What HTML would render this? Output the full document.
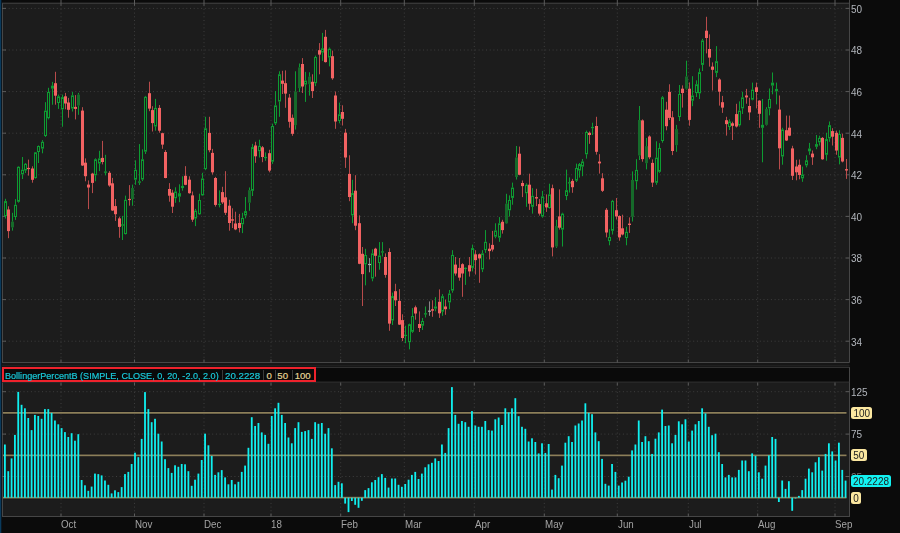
<!DOCTYPE html>
<html><head><meta charset="utf-8"><title>chart</title><style>
html,body{margin:0;padding:0;background:#0b0b0b;}
body{width:900px;height:533px;overflow:hidden;position:relative;font-family:"Liberation Sans",sans-serif;}
.t{position:absolute;white-space:nowrap;line-height:1;}
.ax{font-size:10.5px;color:#b2b6bc;left:851.0px;transform:scaleX(0.95);transform-origin:0 50%;}
.mo{font-size:10.5px;color:#a4a4a4;top:519.4px;transform:scaleX(0.93);transform-origin:0 50%;}
.tag{position:absolute;left:851.2px;height:12px;border-radius:2.5px;font-size:10.5px;line-height:12.6px;color:#1c1c1c;box-sizing:border-box;white-space:nowrap;text-align:center;overflow:hidden;}
.tag span{display:inline-block;transform:scaleX(0.95);transform-origin:50% 50%;}
.hdr{position:absolute;left:2px;top:367px;width:848px;height:15.5px;background:#0a0a0a;}
.box{position:absolute;left:2.3px;top:367.3px;width:313.3px;height:15px;box-sizing:border-box;border:2.2px solid #ee222c;background:#0a0a0a;}
.lb{position:absolute;top:371.0px;font-size:9.6px;line-height:1;white-space:nowrap;transform-origin:0 50%;-webkit-text-stroke:0.2px currentColor;}
.sep{position:absolute;top:370px;width:1px;height:9.5px;background:#3a3a3a;}
</style></head><body>
<svg width="900" height="533" viewBox="0 0 900 533" style="position:absolute;left:0;top:0">
<rect x="0" y="0" width="900" height="533" fill="#0b0b0b"/>
<rect x="0" y="0" width="1.3" height="533" fill="#0a3a5c"/>
<rect x="2" y="3.2" width="847.5" height="359.3" fill="#1c1c1c"/>
<rect x="2" y="382.5" width="847.5" height="134.0" fill="#1c1c1c"/>
<rect x="2" y="363" width="847.5" height="4" fill="#161616"/>
<rect x="2" y="364.9" width="847.5" height="1" fill="#202020"/>
<rect x="2" y="367" width="847.5" height="15" fill="#0a0a0a"/>
<g stroke="#3e3e3e" stroke-width="1" stroke-dasharray="1 2.7" fill="none">
<path d="M5 341.2H844.5"/>
<path d="M5 299.6H844.5"/>
<path d="M5 258.0H844.5"/>
<path d="M5 216.4H844.5"/>
<path d="M5 174.8H844.5"/>
<path d="M5 133.2H844.5"/>
<path d="M5 91.6H844.5"/>
<path d="M5 50.0H844.5"/>
<path d="M5 8.4H844.5"/>
<path d="M61 5.2V360.5"/>
<path d="M61 384.5V514.5"/>
<path d="M134.5 5.2V360.5"/>
<path d="M134.5 384.5V514.5"/>
<path d="M204 5.2V360.5"/>
<path d="M204 384.5V514.5"/>
<path d="M271 5.2V360.5"/>
<path d="M271 384.5V514.5"/>
<path d="M340.7 5.2V360.5"/>
<path d="M340.7 384.5V514.5"/>
<path d="M404.3 5.2V360.5"/>
<path d="M404.3 384.5V514.5"/>
<path d="M474.3 5.2V360.5"/>
<path d="M474.3 384.5V514.5"/>
<path d="M544.3 5.2V360.5"/>
<path d="M544.3 384.5V514.5"/>
<path d="M617.3 5.2V360.5"/>
<path d="M617.3 384.5V514.5"/>
<path d="M688.3 5.2V360.5"/>
<path d="M688.3 384.5V514.5"/>
<path d="M757.7 5.2V360.5"/>
<path d="M757.7 384.5V514.5"/>
<path d="M835 5.2V360.5"/>
<path d="M835 384.5V514.5"/>
<path d="M5 476.5H844.5"/>
<path d="M5 434.1H844.5"/>
<path d="M5 391.7H844.5"/>
</g>
<g stroke="#464646" stroke-width="1" fill="none">
<path d="M2 3.2H849.5M2 362.5H849.5M2.5 3.2V362.5M849.5 0V362.5"/>
<path d="M2 516.5H849.5M2.5 382.5V516.5M849.5 367V517.0"/>
<path d="M2 382.1H849.5M315 367.4H849.5" stroke="#363636"/>
<path d="M2 341.2h4M845.5 341.2h4M2 299.6h4M845.5 299.6h4M2 258.0h4M845.5 258.0h4M2 216.4h4M845.5 216.4h4M2 174.8h4M845.5 174.8h4M2 133.2h4M845.5 133.2h4M2 91.6h4M845.5 91.6h4M2 50.0h4M845.5 50.0h4M2 8.4h4M845.5 8.4h4M2 476.5h4M845.5 476.5h4M2 434.1h4M845.5 434.1h4M2 391.7h4M845.5 391.7h4M61 0V5.7M61 362.5v-3M61 382.5v3M61 516.5v-3M134.5 0V5.7M134.5 362.5v-3M134.5 382.5v3M134.5 516.5v-3M204 0V5.7M204 362.5v-3M204 382.5v3M204 516.5v-3M271 0V5.7M271 362.5v-3M271 382.5v3M271 516.5v-3M340.7 0V5.7M340.7 362.5v-3M340.7 382.5v3M340.7 516.5v-3M404.3 0V5.7M404.3 362.5v-3M404.3 382.5v3M404.3 516.5v-3M474.3 0V5.7M474.3 362.5v-3M474.3 382.5v3M474.3 516.5v-3M544.3 0V5.7M544.3 362.5v-3M544.3 382.5v3M544.3 516.5v-3M617.3 0V5.7M617.3 362.5v-3M617.3 382.5v3M617.3 516.5v-3M688.3 0V5.7M688.3 362.5v-3M688.3 382.5v3M688.3 516.5v-3M757.7 0V5.7M757.7 362.5v-3M757.7 382.5v3M757.7 516.5v-3M835 0V5.7M835 362.5v-3M835 382.5v3M835 516.5v-3" stroke="#5c5c5c"/>
</g>
<defs><filter id="bl" x="0" y="0" width="100%" height="100%" filterUnits="userSpaceOnUse"><feGaussianBlur stdDeviation="0.4"/></filter></defs>
<g filter="url(#bl)">
<path d="M5.5 198.8V201.1M5.5 216.1V218.5" stroke="#0e9c33" stroke-width="1"/>
<rect x="4.5" y="201.6" width="2" height="14.0" fill="#1c1c1c" stroke="#0e9c33" stroke-width="1"/>
<path d="M8.5 206.3V238.2" stroke="#b84c4c" stroke-width="1"/>
<rect x="7.0" y="209.5" width="3" height="21.6" fill="#f26262"/>
<path d="M12.5 212.8V221.7M12.5 227.4V230.6" stroke="#0e9c33" stroke-width="1"/>
<rect x="11.0" y="221.7" width="3" height="5.7" fill="#166a2a"/>
<path d="M15.5 199.2V204.8M15.5 217.0V219.9" stroke="#0e9c33" stroke-width="1"/>
<rect x="14.5" y="205.3" width="2" height="11.2" fill="#1c1c1c" stroke="#0e9c33" stroke-width="1"/>
<path d="M18.5 166.3V166.8M18.5 201.8V202.6" stroke="#0e9c33" stroke-width="1"/>
<rect x="17.5" y="167.3" width="2" height="34.0" fill="#1c1c1c" stroke="#0e9c33" stroke-width="1"/>
<path d="M22.5 157.0V169.7M22.5 174.3V179.0" stroke="#0e9c33" stroke-width="1"/>
<rect x="21.5" y="170.2" width="2" height="3.6" fill="#1c1c1c" stroke="#0e9c33" stroke-width="1"/>
<path d="M25.5 163.0V163.8M25.5 170.5V173.0" stroke="#0e9c33" stroke-width="1"/>
<rect x="24.5" y="164.3" width="2" height="5.7" fill="#1c1c1c" stroke="#0e9c33" stroke-width="1"/>
<path d="M28.5 159.6V175.6" stroke="#b84c4c" stroke-width="1"/>
<rect x="27.0" y="167.9" width="3" height="1.2" fill="#f26262"/>
<path d="M32.5 166.3V182.7" stroke="#b84c4c" stroke-width="1"/>
<rect x="31.0" y="168.5" width="3" height="11.3" fill="#f26262"/>
<path d="M35.5 152.0V152.3M35.5 178.1V178.6" stroke="#0e9c33" stroke-width="1"/>
<rect x="34.5" y="152.8" width="2" height="24.8" fill="#1c1c1c" stroke="#0e9c33" stroke-width="1"/>
<path d="M38.5 145.5V146.0M38.5 152.0V163.0" stroke="#0e9c33" stroke-width="1"/>
<rect x="37.5" y="146.5" width="2" height="5.0" fill="#1c1c1c" stroke="#0e9c33" stroke-width="1"/>
<path d="M42.5 140.1V141.8M42.5 148.6V153.3" stroke="#0e9c33" stroke-width="1"/>
<rect x="41.5" y="142.3" width="2" height="5.8" fill="#1c1c1c" stroke="#0e9c33" stroke-width="1"/>
<path d="M45.5 102.2V110.6M45.5 136.0V136.9" stroke="#0e9c33" stroke-width="1"/>
<rect x="44.5" y="111.1" width="2" height="24.4" fill="#1c1c1c" stroke="#0e9c33" stroke-width="1"/>
<path d="M48.5 87.8V92.0M48.5 118.2V119.4" stroke="#0e9c33" stroke-width="1"/>
<rect x="47.5" y="92.5" width="2" height="25.2" fill="#1c1c1c" stroke="#0e9c33" stroke-width="1"/>
<path d="M52.5 81.9V85.6M52.5 88.6V104.7" stroke="#0e9c33" stroke-width="1"/>
<rect x="51.5" y="86.1" width="2" height="2.0" fill="#1c1c1c" stroke="#0e9c33" stroke-width="1"/>
<path d="M55.5 71.8V104.7" stroke="#b84c4c" stroke-width="1"/>
<rect x="54.0" y="83.2" width="3" height="12.5" fill="#f26262"/>
<path d="M58.5 94.6V96.3M58.5 103.0V108.9" stroke="#0e9c33" stroke-width="1"/>
<rect x="57.5" y="96.8" width="2" height="5.7" fill="#1c1c1c" stroke="#0e9c33" stroke-width="1"/>
<path d="M62.5 94.6V97.1M62.5 109.3V126.7" stroke="#0e9c33" stroke-width="1"/>
<rect x="61.5" y="97.6" width="2" height="11.2" fill="#1c1c1c" stroke="#0e9c33" stroke-width="1"/>
<path d="M65.5 92.9V109.3" stroke="#b84c4c" stroke-width="1"/>
<rect x="64.0" y="96.3" width="3" height="7.2" fill="#f26262"/>
<path d="M68.5 97.9V117.7" stroke="#b84c4c" stroke-width="1"/>
<rect x="67.0" y="102.5" width="3" height="7.3" fill="#f26262"/>
<path d="M72.5 92.0V95.4M72.5 108.6V111.5" stroke="#0e9c33" stroke-width="1"/>
<rect x="71.5" y="95.9" width="2" height="12.2" fill="#1c1c1c" stroke="#0e9c33" stroke-width="1"/>
<path d="M75.5 95.1V119.4" stroke="#b84c4c" stroke-width="1"/>
<rect x="74.0" y="106.9" width="3" height="2.0" fill="#f26262"/>
<path d="M78.5 92.9V94.6M78.5 105.5V114.8" stroke="#0e9c33" stroke-width="1"/>
<rect x="77.0" y="94.6" width="3" height="10.9" fill="#166a2a"/>
<path d="M82.5 107.2V166.0" stroke="#b84c4c" stroke-width="1"/>
<rect x="81.0" y="110.6" width="3" height="54.9" fill="#f26262"/>
<path d="M85.5 158.4V181.3" stroke="#b84c4c" stroke-width="1"/>
<rect x="84.0" y="162.7" width="3" height="13.5" fill="#f26262"/>
<path d="M88.5 180.4V209.1" stroke="#b84c4c" stroke-width="1"/>
<rect x="87.0" y="184.6" width="3" height="2.9" fill="#f26262"/>
<path d="M92.5 172.8V193.1" stroke="#b84c4c" stroke-width="1"/>
<rect x="91.0" y="173.6" width="3" height="9.3" fill="#f26262"/>
<path d="M95.5 158.4V159.3M95.5 175.3V181.3" stroke="#0e9c33" stroke-width="1"/>
<rect x="94.5" y="159.8" width="2" height="15.0" fill="#1c1c1c" stroke="#0e9c33" stroke-width="1"/>
<path d="M99.5 150.8V158.4M99.5 163.5V171.1" stroke="#0e9c33" stroke-width="1"/>
<rect x="98.5" y="158.9" width="2" height="4.1" fill="#1c1c1c" stroke="#0e9c33" stroke-width="1"/>
<path d="M102.5 140.9V164.4" stroke="#b84c4c" stroke-width="1"/>
<rect x="101.0" y="157.9" width="3" height="4.1" fill="#f26262"/>
<path d="M105.5 154.8V171.5M105.5 172.7V175.3" stroke="#0e9c33" stroke-width="1"/>
<rect x="104.5" y="172.0" width="2" height="0.3" fill="#1c1c1c" stroke="#0e9c33" stroke-width="1"/>
<path d="M109.5 171.1V186.8" stroke="#b84c4c" stroke-width="1"/>
<rect x="108.0" y="172.8" width="3" height="12.7" fill="#f26262"/>
<path d="M112.5 177.9V211.0" stroke="#b84c4c" stroke-width="1"/>
<rect x="111.0" y="183.3" width="3" height="27.2" fill="#f26262"/>
<path d="M115.5 199.0V220.9" stroke="#b84c4c" stroke-width="1"/>
<rect x="114.0" y="206.1" width="3" height="8.1" fill="#f26262"/>
<path d="M119.5 216.7V237.8" stroke="#b84c4c" stroke-width="1"/>
<rect x="118.0" y="218.4" width="3" height="8.5" fill="#f26262"/>
<path d="M122.5 215.9V224.3M122.5 225.7V240.0" stroke="#0e9c33" stroke-width="1"/>
<rect x="121.5" y="224.8" width="2" height="0.4" fill="#1c1c1c" stroke="#0e9c33" stroke-width="1"/>
<path d="M125.5 195.6V199.8M125.5 234.1V234.5" stroke="#0e9c33" stroke-width="1"/>
<rect x="124.5" y="200.3" width="2" height="33.3" fill="#1c1c1c" stroke="#0e9c33" stroke-width="1"/>
<path d="M129.5 185.1V205.7" stroke="#b84c4c" stroke-width="1"/>
<rect x="128.0" y="198.9" width="3" height="1.2" fill="#f26262"/>
<path d="M132.5 184.6V188.0M132.5 199.0V205.7" stroke="#0e9c33" stroke-width="1"/>
<rect x="131.0" y="188.0" width="3" height="11.0" fill="#166a2a"/>
<path d="M135.5 160.3V169.8M135.5 179.6V184.8" stroke="#0e9c33" stroke-width="1"/>
<rect x="134.5" y="170.3" width="2" height="8.8" fill="#1c1c1c" stroke="#0e9c33" stroke-width="1"/>
<path d="M139.5 144.1V181.4M139.5 182.6V185.0" stroke="#0e9c33" stroke-width="1"/>
<rect x="138.5" y="181.9" width="2" height="0.3" fill="#1c1c1c" stroke="#0e9c33" stroke-width="1"/>
<path d="M142.5 149.4V159.3M142.5 179.5V181.1" stroke="#0e9c33" stroke-width="1"/>
<rect x="141.5" y="159.8" width="2" height="19.2" fill="#1c1c1c" stroke="#0e9c33" stroke-width="1"/>
<path d="M145.5 95.9V96.8M145.5 151.7V154.0" stroke="#0e9c33" stroke-width="1"/>
<rect x="144.5" y="97.3" width="2" height="53.9" fill="#1c1c1c" stroke="#0e9c33" stroke-width="1"/>
<path d="M149.5 81.7V111.2" stroke="#b84c4c" stroke-width="1"/>
<rect x="148.0" y="93.2" width="3" height="15.4" fill="#f26262"/>
<path d="M152.5 106.2V131.5" stroke="#b84c4c" stroke-width="1"/>
<rect x="151.0" y="110.1" width="3" height="13.0" fill="#f26262"/>
<path d="M155.5 98.9V107.9M155.5 126.5V130.7" stroke="#0e9c33" stroke-width="1"/>
<rect x="154.5" y="108.4" width="2" height="17.6" fill="#1c1c1c" stroke="#0e9c33" stroke-width="1"/>
<path d="M159.5 105.0V132.7" stroke="#b84c4c" stroke-width="1"/>
<rect x="158.0" y="107.9" width="3" height="22.8" fill="#f26262"/>
<path d="M162.5 132.7V148.8" stroke="#b84c4c" stroke-width="1"/>
<rect x="161.0" y="133.2" width="3" height="11.4" fill="#f26262"/>
<path d="M165.5 150.1V178.3" stroke="#b84c4c" stroke-width="1"/>
<rect x="164.0" y="152.0" width="3" height="26.0" fill="#f26262"/>
<path d="M169.5 183.1V201.7" stroke="#b84c4c" stroke-width="1"/>
<rect x="168.0" y="189.0" width="3" height="6.7" fill="#f26262"/>
<path d="M172.5 189.8V213.0" stroke="#b84c4c" stroke-width="1"/>
<rect x="171.0" y="192.7" width="3" height="14.0" fill="#f26262"/>
<path d="M175.5 187.3V191.5M175.5 198.3V202.8" stroke="#0e9c33" stroke-width="1"/>
<rect x="174.5" y="192.0" width="2" height="5.8" fill="#1c1c1c" stroke="#0e9c33" stroke-width="1"/>
<path d="M179.5 184.3V193.2M179.5 196.6V202.2" stroke="#0e9c33" stroke-width="1"/>
<rect x="178.5" y="193.7" width="2" height="2.4" fill="#1c1c1c" stroke="#0e9c33" stroke-width="1"/>
<path d="M182.5 176.3V185.9M182.5 188.1V190.7" stroke="#0e9c33" stroke-width="1"/>
<rect x="181.5" y="186.4" width="2" height="1.2" fill="#1c1c1c" stroke="#0e9c33" stroke-width="1"/>
<path d="M185.5 166.2V185.2" stroke="#b84c4c" stroke-width="1"/>
<rect x="184.0" y="175.8" width="3" height="9.0" fill="#f26262"/>
<path d="M189.5 176.3V193.7" stroke="#b84c4c" stroke-width="1"/>
<rect x="188.0" y="179.7" width="3" height="13.5" fill="#f26262"/>
<path d="M192.5 191.5V221.9" stroke="#b84c4c" stroke-width="1"/>
<rect x="191.0" y="195.4" width="3" height="24.3" fill="#f26262"/>
<path d="M195.5 208.9V210.6M195.5 218.5V226.1" stroke="#0e9c33" stroke-width="1"/>
<rect x="194.5" y="211.1" width="2" height="6.9" fill="#1c1c1c" stroke="#0e9c33" stroke-width="1"/>
<path d="M199.5 193.7V200.0M199.5 214.3V214.8" stroke="#0e9c33" stroke-width="1"/>
<rect x="198.5" y="200.5" width="2" height="13.3" fill="#1c1c1c" stroke="#0e9c33" stroke-width="1"/>
<path d="M202.5 172.8V178.5M202.5 195.4V195.8" stroke="#0e9c33" stroke-width="1"/>
<rect x="201.5" y="179.0" width="2" height="15.9" fill="#1c1c1c" stroke="#0e9c33" stroke-width="1"/>
<path d="M205.5 116.8V128.3M205.5 169.1V170.2" stroke="#0e9c33" stroke-width="1"/>
<rect x="204.5" y="128.8" width="2" height="39.8" fill="#1c1c1c" stroke="#0e9c33" stroke-width="1"/>
<path d="M209.5 116.8V152.3" stroke="#b84c4c" stroke-width="1"/>
<rect x="208.0" y="132.9" width="3" height="17.3" fill="#f26262"/>
<path d="M212.5 148.9V174.6" stroke="#b84c4c" stroke-width="1"/>
<rect x="211.0" y="152.9" width="3" height="19.4" fill="#f26262"/>
<path d="M215.5 176.9V206.6" stroke="#b84c4c" stroke-width="1"/>
<rect x="214.0" y="178.0" width="3" height="26.9" fill="#f26262"/>
<path d="M219.5 190.4V203.7M219.5 204.9V207.4" stroke="#0e9c33" stroke-width="1"/>
<rect x="218.5" y="204.2" width="2" height="0.3" fill="#1c1c1c" stroke="#0e9c33" stroke-width="1"/>
<path d="M222.5 186.8V204.0" stroke="#b84c4c" stroke-width="1"/>
<rect x="221.0" y="192.1" width="3" height="10.3" fill="#f26262"/>
<path d="M225.5 171.2V215.0" stroke="#b84c4c" stroke-width="1"/>
<rect x="224.0" y="197.3" width="3" height="15.5" fill="#f26262"/>
<path d="M229.5 199.8V230.7" stroke="#b84c4c" stroke-width="1"/>
<rect x="228.0" y="205.7" width="3" height="17.3" fill="#f26262"/>
<path d="M232.5 208.3V228.0" stroke="#b84c4c" stroke-width="1"/>
<rect x="231.0" y="219.3" width="3" height="1.3" fill="#f26262"/>
<path d="M235.5 211.7V230.2" stroke="#b84c4c" stroke-width="1"/>
<rect x="234.0" y="223.5" width="3" height="5.9" fill="#f26262"/>
<path d="M239.5 213.9V232.4" stroke="#b84c4c" stroke-width="1"/>
<rect x="238.0" y="223.0" width="3" height="5.0" fill="#f26262"/>
<path d="M242.5 212.8V217.9M242.5 224.3V233.1" stroke="#0e9c33" stroke-width="1"/>
<rect x="241.5" y="218.4" width="2" height="5.4" fill="#1c1c1c" stroke="#0e9c33" stroke-width="1"/>
<path d="M245.5 197.0V211.1M245.5 215.5V218.4" stroke="#0e9c33" stroke-width="1"/>
<rect x="244.5" y="211.6" width="2" height="3.4" fill="#1c1c1c" stroke="#0e9c33" stroke-width="1"/>
<path d="M249.5 187.5V190.2M249.5 202.7V210.8" stroke="#0e9c33" stroke-width="1"/>
<rect x="248.0" y="190.2" width="3" height="12.5" fill="#166a2a"/>
<path d="M252.5 143.9V147.1M252.5 190.8V196.0" stroke="#0e9c33" stroke-width="1"/>
<rect x="251.5" y="147.6" width="2" height="42.7" fill="#1c1c1c" stroke="#0e9c33" stroke-width="1"/>
<path d="M255.5 141.8V162.8" stroke="#b84c4c" stroke-width="1"/>
<rect x="254.0" y="145.5" width="3" height="10.8" fill="#f26262"/>
<path d="M259.5 139.7V145.9M259.5 151.2V157.5" stroke="#0e9c33" stroke-width="1"/>
<rect x="258.5" y="146.4" width="2" height="4.3" fill="#1c1c1c" stroke="#0e9c33" stroke-width="1"/>
<path d="M262.5 146.0V162.2" stroke="#b84c4c" stroke-width="1"/>
<rect x="261.0" y="147.3" width="3" height="9.7" fill="#f26262"/>
<path d="M265.5 152.4V156.9M265.5 158.1V160.8" stroke="#0e9c33" stroke-width="1"/>
<rect x="264.5" y="157.4" width="2" height="0.3" fill="#1c1c1c" stroke="#0e9c33" stroke-width="1"/>
<path d="M269.5 149.8V172.3" stroke="#b84c4c" stroke-width="1"/>
<rect x="268.0" y="153.2" width="3" height="17.4" fill="#f26262"/>
<path d="M272.5 123.6V126.0M272.5 161.7V163.9" stroke="#0e9c33" stroke-width="1"/>
<rect x="271.5" y="126.5" width="2" height="34.7" fill="#1c1c1c" stroke="#0e9c33" stroke-width="1"/>
<path d="M275.5 91.0V105.4M275.5 123.4V125.0" stroke="#0e9c33" stroke-width="1"/>
<rect x="274.5" y="105.9" width="2" height="17.0" fill="#1c1c1c" stroke="#0e9c33" stroke-width="1"/>
<path d="M279.5 71.3V74.3M279.5 101.5V116.8" stroke="#0e9c33" stroke-width="1"/>
<rect x="278.5" y="74.8" width="2" height="26.2" fill="#1c1c1c" stroke="#0e9c33" stroke-width="1"/>
<path d="M282.5 70.8V94.0" stroke="#b84c4c" stroke-width="1"/>
<rect x="281.0" y="80.6" width="3" height="3.2" fill="#f26262"/>
<path d="M285.5 70.4V107.8" stroke="#b84c4c" stroke-width="1"/>
<rect x="284.0" y="83.2" width="3" height="10.4" fill="#f26262"/>
<path d="M289.5 94.0V127.7" stroke="#b84c4c" stroke-width="1"/>
<rect x="288.0" y="97.6" width="3" height="24.2" fill="#f26262"/>
<path d="M292.5 114.5V135.8" stroke="#b84c4c" stroke-width="1"/>
<rect x="291.0" y="117.8" width="3" height="16.0" fill="#f26262"/>
<path d="M295.5 71.3V91.7M295.5 125.2V129.5" stroke="#0e9c33" stroke-width="1"/>
<rect x="294.0" y="91.7" width="3" height="33.5" fill="#166a2a"/>
<path d="M299.5 63.5V67.4M299.5 88.1V92.0" stroke="#0e9c33" stroke-width="1"/>
<rect x="298.0" y="67.4" width="3" height="20.7" fill="#166a2a"/>
<path d="M302.5 58.1V93.0" stroke="#b84c4c" stroke-width="1"/>
<rect x="301.0" y="64.0" width="3" height="22.5" fill="#f26262"/>
<path d="M305.5 71.9V80.6M305.5 84.6V101.9" stroke="#0e9c33" stroke-width="1"/>
<rect x="304.5" y="81.1" width="2" height="3.0" fill="#1c1c1c" stroke="#0e9c33" stroke-width="1"/>
<path d="M309.5 72.3V76.7M309.5 84.2V95.6" stroke="#0e9c33" stroke-width="1"/>
<rect x="308.0" y="76.7" width="3" height="7.5" fill="#166a2a"/>
<path d="M312.5 74.3V98.0" stroke="#b84c4c" stroke-width="1"/>
<rect x="311.0" y="81.8" width="3" height="9.3" fill="#f26262"/>
<path d="M315.5 55.6V57.0M315.5 83.2V86.1" stroke="#0e9c33" stroke-width="1"/>
<rect x="314.5" y="57.5" width="2" height="25.2" fill="#1c1c1c" stroke="#0e9c33" stroke-width="1"/>
<path d="M319.5 43.1V74.3" stroke="#b84c4c" stroke-width="1"/>
<rect x="318.0" y="50.2" width="3" height="4.4" fill="#f26262"/>
<path d="M322.5 32.9V48.3M322.5 52.6V60.9" stroke="#0e9c33" stroke-width="1"/>
<rect x="321.5" y="48.8" width="2" height="3.3" fill="#1c1c1c" stroke="#0e9c33" stroke-width="1"/>
<path d="M325.5 29.9V62.5" stroke="#b84c4c" stroke-width="1"/>
<rect x="324.0" y="36.8" width="3" height="25.3" fill="#f26262"/>
<path d="M329.5 47.5V48.7M329.5 57.5V66.4" stroke="#0e9c33" stroke-width="1"/>
<rect x="328.5" y="49.2" width="2" height="7.8" fill="#1c1c1c" stroke="#0e9c33" stroke-width="1"/>
<path d="M332.5 50.6V79.8" stroke="#b84c4c" stroke-width="1"/>
<rect x="331.0" y="56.2" width="3" height="22.1" fill="#f26262"/>
<path d="M335.5 91.5V128.8" stroke="#b84c4c" stroke-width="1"/>
<rect x="334.0" y="95.5" width="3" height="26.0" fill="#f26262"/>
<path d="M339.5 102.6V114.3M339.5 121.0V123.3" stroke="#0e9c33" stroke-width="1"/>
<rect x="338.5" y="114.8" width="2" height="5.7" fill="#1c1c1c" stroke="#0e9c33" stroke-width="1"/>
<path d="M342.5 105.3V125.5" stroke="#b84c4c" stroke-width="1"/>
<rect x="341.0" y="112.0" width="3" height="6.8" fill="#f26262"/>
<path d="M345.5 128.9V167.9" stroke="#b84c4c" stroke-width="1"/>
<rect x="344.0" y="132.7" width="3" height="24.8" fill="#f26262"/>
<path d="M349.5 155.3V201.2" stroke="#b84c4c" stroke-width="1"/>
<rect x="348.0" y="173.9" width="3" height="23.1" fill="#f26262"/>
<path d="M352.5 179.8V193.1M352.5 215.4V223.2" stroke="#0e9c33" stroke-width="1"/>
<rect x="351.5" y="193.6" width="2" height="21.3" fill="#1c1c1c" stroke="#0e9c33" stroke-width="1"/>
<path d="M355.5 175.2V230.2" stroke="#b84c4c" stroke-width="1"/>
<rect x="354.0" y="190.7" width="3" height="35.0" fill="#f26262"/>
<path d="M359.5 215.4V264.2" stroke="#b84c4c" stroke-width="1"/>
<rect x="358.0" y="223.2" width="3" height="40.6" fill="#f26262"/>
<path d="M362.5 247.0V306.0" stroke="#b84c4c" stroke-width="1"/>
<rect x="361.0" y="253.8" width="3" height="20.3" fill="#f26262"/>
<path d="M365.5 248.8V255.0M365.5 264.4V285.4" stroke="#0e9c33" stroke-width="1"/>
<rect x="364.5" y="255.5" width="2" height="8.4" fill="#1c1c1c" stroke="#0e9c33" stroke-width="1"/>
<path d="M369.5 258.1V272.3" stroke="#888" stroke-width="1"/>
<rect x="368.0" y="263.9" width="3" height="1.2" fill="#aaa"/>
<path d="M372.5 249.3V253.4M372.5 278.5V281.3" stroke="#0e9c33" stroke-width="1"/>
<rect x="371.5" y="253.9" width="2" height="24.1" fill="#1c1c1c" stroke="#0e9c33" stroke-width="1"/>
<path d="M375.5 247.8V276.7" stroke="#b84c4c" stroke-width="1"/>
<rect x="374.0" y="248.7" width="3" height="7.1" fill="#f26262"/>
<path d="M379.5 242.1V255.5M379.5 263.0V269.7" stroke="#0e9c33" stroke-width="1"/>
<rect x="378.5" y="256.0" width="2" height="6.5" fill="#1c1c1c" stroke="#0e9c33" stroke-width="1"/>
<path d="M382.5 242.1V251.3M382.5 252.5V256.5" stroke="#0e9c33" stroke-width="1"/>
<rect x="381.5" y="251.8" width="2" height="0.3" fill="#1c1c1c" stroke="#0e9c33" stroke-width="1"/>
<path d="M385.5 253.4V277.7" stroke="#b84c4c" stroke-width="1"/>
<rect x="384.0" y="257.0" width="3" height="17.9" fill="#f26262"/>
<path d="M389.5 248.3V330.8" stroke="#b84c4c" stroke-width="1"/>
<rect x="388.0" y="252.0" width="3" height="71.6" fill="#f26262"/>
<path d="M392.5 292.6V296.1M392.5 320.5V325.0" stroke="#0e9c33" stroke-width="1"/>
<rect x="391.5" y="296.6" width="2" height="23.4" fill="#1c1c1c" stroke="#0e9c33" stroke-width="1"/>
<path d="M395.5 283.8V306.0" stroke="#b84c4c" stroke-width="1"/>
<rect x="394.0" y="291.2" width="3" height="9.1" fill="#f26262"/>
<path d="M399.5 289.1V325.0" stroke="#b84c4c" stroke-width="1"/>
<rect x="398.0" y="300.9" width="3" height="23.7" fill="#f26262"/>
<path d="M402.5 314.3V341.1" stroke="#b84c4c" stroke-width="1"/>
<rect x="401.0" y="320.1" width="3" height="17.9" fill="#f26262"/>
<path d="M405.5 325.7V334.8M405.5 336.1V343.2" stroke="#0e9c33" stroke-width="1"/>
<rect x="404.5" y="335.3" width="2" height="0.3" fill="#1c1c1c" stroke="#0e9c33" stroke-width="1"/>
<path d="M409.5 323.6V324.2M409.5 342.2V349.4" stroke="#0e9c33" stroke-width="1"/>
<rect x="408.5" y="324.7" width="2" height="17.0" fill="#1c1c1c" stroke="#0e9c33" stroke-width="1"/>
<path d="M412.5 308.1V316.0M412.5 331.8V332.9" stroke="#0e9c33" stroke-width="1"/>
<rect x="411.5" y="316.5" width="2" height="14.8" fill="#1c1c1c" stroke="#0e9c33" stroke-width="1"/>
<path d="M415.5 305.6V319.7" stroke="#b84c4c" stroke-width="1"/>
<rect x="414.0" y="307.3" width="3" height="6.2" fill="#f26262"/>
<path d="M419.5 311.4V332.0" stroke="#b84c4c" stroke-width="1"/>
<rect x="418.0" y="324.0" width="3" height="4.0" fill="#f26262"/>
<path d="M422.5 318.0V321.0M422.5 325.7V330.0" stroke="#0e9c33" stroke-width="1"/>
<rect x="421.5" y="321.5" width="2" height="3.7" fill="#1c1c1c" stroke="#0e9c33" stroke-width="1"/>
<path d="M425.5 306.5V313.2M425.5 314.4V317.5" stroke="#0e9c33" stroke-width="1"/>
<rect x="424.5" y="313.7" width="2" height="0.3" fill="#1c1c1c" stroke="#0e9c33" stroke-width="1"/>
<path d="M429.5 301.4V315.8" stroke="#888" stroke-width="1"/>
<rect x="428.0" y="310.6" width="3" height="1.2" fill="#aaa"/>
<path d="M432.5 300.3V316.8" stroke="#b84c4c" stroke-width="1"/>
<rect x="431.0" y="309.2" width="3" height="1.5" fill="#f26262"/>
<path d="M435.5 297.2V306.5M435.5 308.6V311.3" stroke="#0e9c33" stroke-width="1"/>
<rect x="434.5" y="307.0" width="2" height="1.1" fill="#1c1c1c" stroke="#0e9c33" stroke-width="1"/>
<path d="M439.5 289.4V317.9" stroke="#b84c4c" stroke-width="1"/>
<rect x="438.0" y="301.8" width="3" height="11.5" fill="#f26262"/>
<path d="M442.5 294.1V296.2M442.5 311.7V315.8" stroke="#0e9c33" stroke-width="1"/>
<rect x="441.5" y="296.7" width="2" height="14.5" fill="#1c1c1c" stroke="#0e9c33" stroke-width="1"/>
<path d="M445.5 299.7V314.8" stroke="#b84c4c" stroke-width="1"/>
<rect x="444.0" y="306.5" width="3" height="2.7" fill="#f26262"/>
<path d="M449.5 290.0V293.5M449.5 302.4V309.2" stroke="#0e9c33" stroke-width="1"/>
<rect x="448.5" y="294.0" width="2" height="7.9" fill="#1c1c1c" stroke="#0e9c33" stroke-width="1"/>
<path d="M452.5 250.2V254.9M452.5 290.6V292.7" stroke="#0e9c33" stroke-width="1"/>
<rect x="451.5" y="255.4" width="2" height="34.7" fill="#1c1c1c" stroke="#0e9c33" stroke-width="1"/>
<path d="M455.5 257.0V275.6" stroke="#b84c4c" stroke-width="1"/>
<rect x="454.0" y="264.6" width="3" height="8.9" fill="#f26262"/>
<path d="M459.5 258.0V280.7" stroke="#b84c4c" stroke-width="1"/>
<rect x="458.0" y="267.9" width="3" height="9.7" fill="#f26262"/>
<path d="M462.5 263.2V296.8" stroke="#b84c4c" stroke-width="1"/>
<rect x="461.0" y="264.2" width="3" height="9.3" fill="#f26262"/>
<path d="M465.5 267.3V267.8M465.5 269.1V284.9" stroke="#0e9c33" stroke-width="1"/>
<rect x="464.5" y="268.3" width="2" height="0.3" fill="#1c1c1c" stroke="#0e9c33" stroke-width="1"/>
<path d="M469.5 257.0V276.6" stroke="#b84c4c" stroke-width="1"/>
<rect x="468.0" y="265.2" width="3" height="6.2" fill="#f26262"/>
<path d="M472.5 244.6V248.1M472.5 267.9V271.4" stroke="#0e9c33" stroke-width="1"/>
<rect x="471.5" y="248.6" width="2" height="18.8" fill="#1c1c1c" stroke="#0e9c33" stroke-width="1"/>
<path d="M475.5 250.2V274.5" stroke="#b84c4c" stroke-width="1"/>
<rect x="474.0" y="254.3" width="3" height="5.8" fill="#f26262"/>
<path d="M479.5 253.5V282.8" stroke="#b84c4c" stroke-width="1"/>
<rect x="478.0" y="254.3" width="3" height="4.1" fill="#f26262"/>
<path d="M482.5 250.2V253.4M482.5 269.4V272.1" stroke="#0e9c33" stroke-width="1"/>
<rect x="481.5" y="253.9" width="2" height="15.0" fill="#1c1c1c" stroke="#0e9c33" stroke-width="1"/>
<path d="M485.5 230.1V241.8M485.5 250.1V252.8" stroke="#0e9c33" stroke-width="1"/>
<rect x="484.5" y="242.3" width="2" height="7.3" fill="#1c1c1c" stroke="#0e9c33" stroke-width="1"/>
<path d="M489.5 243.3V259.4" stroke="#b84c4c" stroke-width="1"/>
<rect x="488.0" y="248.7" width="3" height="2.4" fill="#f26262"/>
<path d="M492.5 230.9V251.5" stroke="#b84c4c" stroke-width="1"/>
<rect x="491.0" y="244.9" width="3" height="4.6" fill="#f26262"/>
<path d="M495.5 223.3V230.5M495.5 236.7V238.3" stroke="#0e9c33" stroke-width="1"/>
<rect x="494.5" y="231.0" width="2" height="5.2" fill="#1c1c1c" stroke="#0e9c33" stroke-width="1"/>
<path d="M499.5 217.1V223.3M499.5 237.7V241.8" stroke="#0e9c33" stroke-width="1"/>
<rect x="498.5" y="223.8" width="2" height="13.4" fill="#1c1c1c" stroke="#0e9c33" stroke-width="1"/>
<path d="M502.5 219.8V233.6" stroke="#b84c4c" stroke-width="1"/>
<rect x="501.0" y="221.8" width="3" height="8.3" fill="#f26262"/>
<path d="M506.5 193.8V203.7M506.5 223.3V223.8" stroke="#0e9c33" stroke-width="1"/>
<rect x="505.0" y="203.7" width="3" height="19.6" fill="#166a2a"/>
<path d="M509.5 195.4V200.0M509.5 210.3V216.5" stroke="#0e9c33" stroke-width="1"/>
<rect x="508.5" y="200.5" width="2" height="9.3" fill="#1c1c1c" stroke="#0e9c33" stroke-width="1"/>
<path d="M512.5 182.6V187.6M512.5 197.9V204.7" stroke="#0e9c33" stroke-width="1"/>
<rect x="511.5" y="188.1" width="2" height="9.3" fill="#1c1c1c" stroke="#0e9c33" stroke-width="1"/>
<path d="M516.5 146.0V157.5M516.5 177.0V179.5" stroke="#0e9c33" stroke-width="1"/>
<rect x="515.0" y="157.5" width="3" height="19.5" fill="#166a2a"/>
<path d="M519.5 146.6V175.2" stroke="#b84c4c" stroke-width="1"/>
<rect x="518.0" y="153.7" width="3" height="21.1" fill="#f26262"/>
<path d="M522.5 180.5V197.1" stroke="#b84c4c" stroke-width="1"/>
<rect x="521.0" y="183.0" width="3" height="3.1" fill="#f26262"/>
<path d="M526.5 183.4V184.7M526.5 193.3V206.8" stroke="#0e9c33" stroke-width="1"/>
<rect x="525.5" y="185.2" width="2" height="7.6" fill="#1c1c1c" stroke="#0e9c33" stroke-width="1"/>
<path d="M529.5 173.7V209.9" stroke="#b84c4c" stroke-width="1"/>
<rect x="528.0" y="184.7" width="3" height="19.0" fill="#f26262"/>
<path d="M532.5 188.2V195.8M532.5 206.8V213.6" stroke="#0e9c33" stroke-width="1"/>
<rect x="531.5" y="196.3" width="2" height="10.0" fill="#1c1c1c" stroke="#0e9c33" stroke-width="1"/>
<path d="M536.5 188.8V206.1" stroke="#b84c4c" stroke-width="1"/>
<rect x="535.0" y="197.1" width="3" height="1.4" fill="#f26262"/>
<path d="M539.5 199.1V215.6" stroke="#b84c4c" stroke-width="1"/>
<rect x="538.0" y="204.1" width="3" height="9.5" fill="#f26262"/>
<path d="M542.5 190.9V196.4M542.5 216.5V217.7" stroke="#0e9c33" stroke-width="1"/>
<rect x="541.5" y="196.9" width="2" height="19.1" fill="#1c1c1c" stroke="#0e9c33" stroke-width="1"/>
<path d="M546.5 194.4V211.9" stroke="#b84c4c" stroke-width="1"/>
<rect x="545.0" y="203.3" width="3" height="4.1" fill="#f26262"/>
<path d="M549.5 183.7V194.4M549.5 208.0V208.5" stroke="#0e9c33" stroke-width="1"/>
<rect x="548.5" y="194.9" width="2" height="12.6" fill="#1c1c1c" stroke="#0e9c33" stroke-width="1"/>
<path d="M552.5 184.6V256.4" stroke="#b84c4c" stroke-width="1"/>
<rect x="551.0" y="188.2" width="3" height="59.2" fill="#f26262"/>
<path d="M556.5 219.8V226.0M556.5 246.5V247.9" stroke="#0e9c33" stroke-width="1"/>
<rect x="555.0" y="226.0" width="3" height="20.5" fill="#166a2a"/>
<path d="M559.5 189.4V229.6" stroke="#b84c4c" stroke-width="1"/>
<rect x="558.0" y="216.4" width="3" height="11.3" fill="#f26262"/>
<path d="M562.5 212.7V213.6M562.5 229.6V246.5" stroke="#0e9c33" stroke-width="1"/>
<rect x="561.5" y="214.1" width="2" height="15.0" fill="#1c1c1c" stroke="#0e9c33" stroke-width="1"/>
<path d="M566.5 169.6V190.2M566.5 196.0V200.1" stroke="#0e9c33" stroke-width="1"/>
<rect x="565.5" y="190.7" width="2" height="4.8" fill="#1c1c1c" stroke="#0e9c33" stroke-width="1"/>
<path d="M569.5 177.4V182.2M569.5 183.4V192.5" stroke="#0e9c33" stroke-width="1"/>
<rect x="568.5" y="182.7" width="2" height="0.3" fill="#1c1c1c" stroke="#0e9c33" stroke-width="1"/>
<path d="M572.5 178.9V192.8" stroke="#b84c4c" stroke-width="1"/>
<rect x="571.0" y="180.9" width="3" height="6.3" fill="#f26262"/>
<path d="M576.5 163.6V168.0M576.5 180.7V182.0" stroke="#0e9c33" stroke-width="1"/>
<rect x="575.5" y="168.5" width="2" height="11.7" fill="#1c1c1c" stroke="#0e9c33" stroke-width="1"/>
<path d="M579.5 163.0V164.1M579.5 170.5V177.6" stroke="#0e9c33" stroke-width="1"/>
<rect x="578.5" y="164.6" width="2" height="5.4" fill="#1c1c1c" stroke="#0e9c33" stroke-width="1"/>
<path d="M582.5 159.0V161.5M582.5 166.6V176.2" stroke="#0e9c33" stroke-width="1"/>
<rect x="581.5" y="162.0" width="2" height="4.1" fill="#1c1c1c" stroke="#0e9c33" stroke-width="1"/>
<path d="M586.5 130.6V132.0M586.5 154.3V158.6" stroke="#0e9c33" stroke-width="1"/>
<rect x="585.5" y="132.5" width="2" height="21.3" fill="#1c1c1c" stroke="#0e9c33" stroke-width="1"/>
<path d="M589.5 131.5V143.8" stroke="#b84c4c" stroke-width="1"/>
<rect x="588.0" y="132.8" width="3" height="2.2" fill="#f26262"/>
<path d="M592.5 122.7V126.9M592.5 128.2V135.0" stroke="#0e9c33" stroke-width="1"/>
<rect x="591.5" y="127.4" width="2" height="0.3" fill="#1c1c1c" stroke="#0e9c33" stroke-width="1"/>
<path d="M596.5 116.8V154.6" stroke="#b84c4c" stroke-width="1"/>
<rect x="595.0" y="126.0" width="3" height="25.8" fill="#f26262"/>
<path d="M599.5 154.2V173.6" stroke="#b84c4c" stroke-width="1"/>
<rect x="598.0" y="161.6" width="3" height="1.8" fill="#f26262"/>
<path d="M602.5 173.2V192.0" stroke="#b84c4c" stroke-width="1"/>
<rect x="601.0" y="178.3" width="3" height="12.5" fill="#f26262"/>
<path d="M606.5 208.1V237.4" stroke="#b84c4c" stroke-width="1"/>
<rect x="605.0" y="209.8" width="3" height="22.7" fill="#f26262"/>
<path d="M609.5 229.2V237.0M609.5 241.1V245.3" stroke="#0e9c33" stroke-width="1"/>
<rect x="608.5" y="237.5" width="2" height="3.1" fill="#1c1c1c" stroke="#0e9c33" stroke-width="1"/>
<path d="M612.5 199.9V200.9M612.5 230.8V234.5" stroke="#0e9c33" stroke-width="1"/>
<rect x="611.5" y="201.4" width="2" height="28.9" fill="#1c1c1c" stroke="#0e9c33" stroke-width="1"/>
<path d="M616.5 198.0V219.5" stroke="#b84c4c" stroke-width="1"/>
<rect x="615.0" y="210.2" width="3" height="6.2" fill="#f26262"/>
<path d="M619.5 215.3V240.7" stroke="#b84c4c" stroke-width="1"/>
<rect x="618.0" y="216.0" width="3" height="21.4" fill="#f26262"/>
<path d="M622.5 214.7V235.4" stroke="#b84c4c" stroke-width="1"/>
<rect x="621.0" y="228.3" width="3" height="6.2" fill="#f26262"/>
<path d="M626.5 226.7V231.8M626.5 238.0V245.3" stroke="#0e9c33" stroke-width="1"/>
<rect x="625.5" y="232.3" width="2" height="5.2" fill="#1c1c1c" stroke="#0e9c33" stroke-width="1"/>
<path d="M629.5 217.4V232.9" stroke="#b84c4c" stroke-width="1"/>
<rect x="628.0" y="223.6" width="3" height="1.4" fill="#f26262"/>
<path d="M632.5 171.4V180.0M632.5 216.8V221.5" stroke="#0e9c33" stroke-width="1"/>
<rect x="631.0" y="180.0" width="3" height="36.8" fill="#166a2a"/>
<path d="M636.5 159.2V169.9M636.5 181.3V189.5" stroke="#0e9c33" stroke-width="1"/>
<rect x="635.5" y="170.4" width="2" height="10.4" fill="#1c1c1c" stroke="#0e9c33" stroke-width="1"/>
<path d="M639.5 106.0V120.0M639.5 155.5V160.0" stroke="#0e9c33" stroke-width="1"/>
<rect x="638.0" y="120.0" width="3" height="35.5" fill="#166a2a"/>
<path d="M642.5 119.4V161.7" stroke="#b84c4c" stroke-width="1"/>
<rect x="641.0" y="120.4" width="3" height="38.7" fill="#f26262"/>
<path d="M646.5 138.0V146.2M646.5 163.2V169.4" stroke="#0e9c33" stroke-width="1"/>
<rect x="645.0" y="146.2" width="3" height="17.0" fill="#166a2a"/>
<path d="M649.5 135.3V159.2" stroke="#b84c4c" stroke-width="1"/>
<rect x="648.0" y="136.5" width="3" height="20.8" fill="#f26262"/>
<path d="M652.5 159.4V187.0" stroke="#b84c4c" stroke-width="1"/>
<rect x="651.0" y="162.9" width="3" height="19.7" fill="#f26262"/>
<path d="M656.5 141.3V157.6M656.5 182.8V184.8" stroke="#0e9c33" stroke-width="1"/>
<rect x="655.5" y="158.1" width="2" height="24.2" fill="#1c1c1c" stroke="#0e9c33" stroke-width="1"/>
<path d="M659.5 143.2V148.0M659.5 171.8V172.8" stroke="#0e9c33" stroke-width="1"/>
<rect x="658.5" y="148.5" width="2" height="22.8" fill="#1c1c1c" stroke="#0e9c33" stroke-width="1"/>
<path d="M662.5 96.1V97.3M662.5 141.0V142.7" stroke="#0e9c33" stroke-width="1"/>
<rect x="661.5" y="97.8" width="2" height="42.7" fill="#1c1c1c" stroke="#0e9c33" stroke-width="1"/>
<path d="M666.5 101.8V130.3" stroke="#b84c4c" stroke-width="1"/>
<rect x="665.0" y="109.7" width="3" height="16.5" fill="#f26262"/>
<path d="M669.5 84.3V120.0" stroke="#b84c4c" stroke-width="1"/>
<rect x="668.0" y="91.9" width="3" height="26.0" fill="#f26262"/>
<path d="M672.5 111.1V155.1" stroke="#b84c4c" stroke-width="1"/>
<rect x="671.0" y="117.3" width="3" height="33.7" fill="#f26262"/>
<path d="M676.5 124.9V129.1M676.5 145.2V151.8" stroke="#0e9c33" stroke-width="1"/>
<rect x="675.0" y="129.1" width="3" height="16.1" fill="#166a2a"/>
<path d="M679.5 85.0V94.0M679.5 117.0V121.0" stroke="#0e9c33" stroke-width="1"/>
<rect x="678.5" y="94.5" width="2" height="22.0" fill="#1c1c1c" stroke="#0e9c33" stroke-width="1"/>
<path d="M682.5 85.4V107.6" stroke="#b84c4c" stroke-width="1"/>
<rect x="681.0" y="88.7" width="3" height="4.3" fill="#f26262"/>
<path d="M686.5 60.7V76.5M686.5 88.7V89.5" stroke="#0e9c33" stroke-width="1"/>
<rect x="685.0" y="76.5" width="3" height="12.2" fill="#166a2a"/>
<path d="M689.5 82.4V125.7" stroke="#b84c4c" stroke-width="1"/>
<rect x="688.0" y="88.7" width="3" height="31.2" fill="#f26262"/>
<path d="M692.5 76.2V95.5M692.5 100.7V106.2" stroke="#0e9c33" stroke-width="1"/>
<rect x="691.5" y="96.0" width="2" height="4.2" fill="#1c1c1c" stroke="#0e9c33" stroke-width="1"/>
<path d="M696.5 80.4V84.3M696.5 93.0V97.0" stroke="#0e9c33" stroke-width="1"/>
<rect x="695.5" y="84.8" width="2" height="7.7" fill="#1c1c1c" stroke="#0e9c33" stroke-width="1"/>
<path d="M699.5 68.5V72.2M699.5 93.4V99.0" stroke="#0e9c33" stroke-width="1"/>
<rect x="698.5" y="72.7" width="2" height="20.2" fill="#1c1c1c" stroke="#0e9c33" stroke-width="1"/>
<path d="M702.5 38.8V40.5M702.5 64.9V71.0" stroke="#0e9c33" stroke-width="1"/>
<rect x="701.5" y="41.0" width="2" height="23.4" fill="#1c1c1c" stroke="#0e9c33" stroke-width="1"/>
<path d="M706.5 16.8V53.4" stroke="#b84c4c" stroke-width="1"/>
<rect x="705.0" y="30.7" width="3" height="7.3" fill="#f26262"/>
<path d="M709.5 34.4V66.6" stroke="#b84c4c" stroke-width="1"/>
<rect x="708.0" y="49.0" width="3" height="8.6" fill="#f26262"/>
<path d="M712.5 62.4V90.5" stroke="#b84c4c" stroke-width="1"/>
<rect x="711.0" y="66.6" width="3" height="3.2" fill="#f26262"/>
<path d="M716.5 46.1V61.2M716.5 72.9V77.1" stroke="#0e9c33" stroke-width="1"/>
<rect x="715.5" y="61.7" width="2" height="10.7" fill="#1c1c1c" stroke="#0e9c33" stroke-width="1"/>
<path d="M719.5 78.3V105.6" stroke="#b84c4c" stroke-width="1"/>
<rect x="718.0" y="79.5" width="3" height="12.2" fill="#f26262"/>
<path d="M722.5 95.9V112.9" stroke="#b84c4c" stroke-width="1"/>
<rect x="721.0" y="102.2" width="3" height="5.4" fill="#f26262"/>
<path d="M726.5 116.8V135.6" stroke="#b84c4c" stroke-width="1"/>
<rect x="725.0" y="120.2" width="3" height="3.9" fill="#f26262"/>
<path d="M729.5 119.3V121.5M729.5 127.0V130.0" stroke="#0e9c33" stroke-width="1"/>
<rect x="728.5" y="122.0" width="2" height="4.5" fill="#1c1c1c" stroke="#0e9c33" stroke-width="1"/>
<path d="M732.5 121.7V140.0" stroke="#b84c4c" stroke-width="1"/>
<rect x="731.0" y="123.3" width="3" height="2.5" fill="#f26262"/>
<path d="M736.5 103.8V127.5" stroke="#b84c4c" stroke-width="1"/>
<rect x="735.0" y="114.1" width="3" height="12.4" fill="#f26262"/>
<path d="M739.5 101.4V110.6M739.5 125.3V126.5" stroke="#0e9c33" stroke-width="1"/>
<rect x="738.5" y="111.1" width="2" height="13.7" fill="#1c1c1c" stroke="#0e9c33" stroke-width="1"/>
<path d="M742.5 91.8V97.4M742.5 108.4V114.0" stroke="#0e9c33" stroke-width="1"/>
<rect x="741.5" y="97.9" width="2" height="10.0" fill="#1c1c1c" stroke="#0e9c33" stroke-width="1"/>
<path d="M746.5 88.9V103.7" stroke="#b84c4c" stroke-width="1"/>
<rect x="745.0" y="95.5" width="3" height="1.9" fill="#f26262"/>
<path d="M749.5 97.8V120.1" stroke="#b84c4c" stroke-width="1"/>
<rect x="748.0" y="106.0" width="3" height="6.4" fill="#f26262"/>
<path d="M752.5 82.6V89.6M752.5 99.7V100.3" stroke="#0e9c33" stroke-width="1"/>
<rect x="751.5" y="90.1" width="2" height="9.1" fill="#1c1c1c" stroke="#0e9c33" stroke-width="1"/>
<path d="M756.5 82.6V108.4" stroke="#b84c4c" stroke-width="1"/>
<rect x="755.0" y="87.3" width="3" height="4.7" fill="#f26262"/>
<path d="M759.5 100.2V127.8" stroke="#b84c4c" stroke-width="1"/>
<rect x="758.0" y="100.6" width="3" height="13.2" fill="#f26262"/>
<path d="M762.5 99.0V124.8M762.5 127.8V162.3" stroke="#0e9c33" stroke-width="1"/>
<rect x="761.5" y="125.3" width="2" height="2.0" fill="#1c1c1c" stroke="#0e9c33" stroke-width="1"/>
<path d="M766.5 107.2V109.1M766.5 124.8V125.5" stroke="#0e9c33" stroke-width="1"/>
<rect x="765.0" y="109.1" width="3" height="15.7" fill="#166a2a"/>
<path d="M769.5 88.5V99.0M769.5 108.4V115.4" stroke="#0e9c33" stroke-width="1"/>
<rect x="768.5" y="99.5" width="2" height="8.4" fill="#1c1c1c" stroke="#0e9c33" stroke-width="1"/>
<path d="M772.5 72.5V82.6M772.5 85.6V94.3" stroke="#0e9c33" stroke-width="1"/>
<rect x="771.5" y="83.1" width="2" height="2.0" fill="#1c1c1c" stroke="#0e9c33" stroke-width="1"/>
<path d="M776.5 82.6V88.9M776.5 91.3V104.4" stroke="#0e9c33" stroke-width="1"/>
<rect x="775.5" y="89.4" width="2" height="1.4" fill="#1c1c1c" stroke="#0e9c33" stroke-width="1"/>
<path d="M779.5 95.5V169.4" stroke="#b84c4c" stroke-width="1"/>
<rect x="778.0" y="109.6" width="3" height="38.7" fill="#f26262"/>
<path d="M782.5 127.8V129.5M782.5 156.5V164.7" stroke="#0e9c33" stroke-width="1"/>
<rect x="781.5" y="130.0" width="2" height="26.0" fill="#1c1c1c" stroke="#0e9c33" stroke-width="1"/>
<path d="M786.5 115.6V141.0" stroke="#b84c4c" stroke-width="1"/>
<rect x="785.0" y="130.2" width="3" height="10.3" fill="#f26262"/>
<path d="M789.5 115.6V136.2" stroke="#b84c4c" stroke-width="1"/>
<rect x="788.0" y="127.7" width="3" height="8.0" fill="#f26262"/>
<path d="M792.5 145.8V180.0" stroke="#b84c4c" stroke-width="1"/>
<rect x="791.0" y="148.4" width="3" height="27.4" fill="#f26262"/>
<path d="M796.5 159.8V180.3" stroke="#b84c4c" stroke-width="1"/>
<rect x="795.0" y="166.5" width="3" height="5.8" fill="#f26262"/>
<path d="M799.5 159.5V179.3" stroke="#b84c4c" stroke-width="1"/>
<rect x="798.0" y="164.8" width="3" height="10.2" fill="#f26262"/>
<path d="M802.5 166.6V174.5M802.5 178.4V181.8" stroke="#0e9c33" stroke-width="1"/>
<rect x="801.5" y="175.0" width="2" height="2.9" fill="#1c1c1c" stroke="#0e9c33" stroke-width="1"/>
<path d="M806.5 155.3V160.3M806.5 165.4V167.4" stroke="#0e9c33" stroke-width="1"/>
<rect x="805.5" y="160.8" width="2" height="4.1" fill="#1c1c1c" stroke="#0e9c33" stroke-width="1"/>
<path d="M809.5 142.9V148.5M809.5 151.4V154.8" stroke="#0e9c33" stroke-width="1"/>
<rect x="808.5" y="149.0" width="2" height="1.9" fill="#1c1c1c" stroke="#0e9c33" stroke-width="1"/>
<path d="M812.5 150.5V164.9" stroke="#b84c4c" stroke-width="1"/>
<rect x="811.0" y="153.6" width="3" height="3.7" fill="#f26262"/>
<path d="M816.5 135.0V144.1M816.5 146.8V149.2" stroke="#0e9c33" stroke-width="1"/>
<rect x="815.5" y="144.6" width="2" height="1.7" fill="#1c1c1c" stroke="#0e9c33" stroke-width="1"/>
<path d="M819.5 135.7V137.9M819.5 142.4V145.5" stroke="#0e9c33" stroke-width="1"/>
<rect x="818.5" y="138.4" width="2" height="3.5" fill="#1c1c1c" stroke="#0e9c33" stroke-width="1"/>
<path d="M822.5 137.0V159.8" stroke="#b84c4c" stroke-width="1"/>
<rect x="821.0" y="137.9" width="3" height="21.4" fill="#f26262"/>
<path d="M826.5 132.8V139.1M826.5 154.8V160.7" stroke="#0e9c33" stroke-width="1"/>
<rect x="825.5" y="139.6" width="2" height="14.7" fill="#1c1c1c" stroke="#0e9c33" stroke-width="1"/>
<path d="M829.5 121.5V125.2M829.5 138.4V141.8" stroke="#0e9c33" stroke-width="1"/>
<rect x="828.5" y="125.7" width="2" height="12.2" fill="#1c1c1c" stroke="#0e9c33" stroke-width="1"/>
<path d="M832.5 128.2V145.5" stroke="#b84c4c" stroke-width="1"/>
<rect x="831.0" y="131.1" width="3" height="5.6" fill="#f26262"/>
<path d="M836.5 130.6V154.8" stroke="#b84c4c" stroke-width="1"/>
<rect x="835.0" y="132.8" width="3" height="17.7" fill="#f26262"/>
<path d="M839.5 130.3V134.0M839.5 157.6V164.4" stroke="#0e9c33" stroke-width="1"/>
<rect x="838.5" y="134.5" width="2" height="22.6" fill="#1c1c1c" stroke="#0e9c33" stroke-width="1"/>
<path d="M842.5 133.6V162.4" stroke="#b84c4c" stroke-width="1"/>
<rect x="841.0" y="137.9" width="3" height="23.6" fill="#f26262"/>
<path d="M846.5 159.0V178.9" stroke="#b84c4c" stroke-width="1"/>
<rect x="845.0" y="169.1" width="3" height="1.4" fill="#f26262"/>
</g>
<path d="M3 497.7H846.5" stroke="#101016" stroke-width="3.0"/>
<path d="M3 497.7H846.5" stroke="#8c7f59" stroke-width="1.7"/>
<path d="M3 455.3H846.5" stroke="#101016" stroke-width="3.0"/>
<path d="M3 455.3H846.5" stroke="#8c7f59" stroke-width="1.7"/>
<path d="M3 412.9H846.5" stroke="#101016" stroke-width="3.0"/>
<path d="M3 412.9H846.5" stroke="#8c7f59" stroke-width="1.7"/>
<rect x="4.00" y="444.5" width="1.8" height="53.2" fill="#0ff0f0"/>
<rect x="7.34" y="471.2" width="1.8" height="26.5" fill="#0ff0f0"/>
<rect x="10.67" y="458.4" width="1.8" height="39.3" fill="#0ff0f0"/>
<rect x="14.01" y="434.9" width="1.8" height="62.8" fill="#0ff0f0"/>
<rect x="17.34" y="391.9" width="1.8" height="105.8" fill="#0ff0f0"/>
<rect x="20.68" y="404.8" width="1.8" height="92.9" fill="#0ff0f0"/>
<rect x="24.02" y="408.3" width="1.8" height="89.4" fill="#0ff0f0"/>
<rect x="27.35" y="418.0" width="1.8" height="79.7" fill="#0ff0f0"/>
<rect x="30.69" y="430.1" width="1.8" height="67.6" fill="#0ff0f0"/>
<rect x="34.02" y="414.9" width="1.8" height="82.8" fill="#0ff0f0"/>
<rect x="37.36" y="416.0" width="1.8" height="81.7" fill="#0ff0f0"/>
<rect x="40.70" y="418.8" width="1.8" height="78.9" fill="#0ff0f0"/>
<rect x="44.03" y="409.1" width="1.8" height="88.6" fill="#0ff0f0"/>
<rect x="47.37" y="409.1" width="1.8" height="88.6" fill="#0ff0f0"/>
<rect x="50.70" y="412.9" width="1.8" height="84.8" fill="#0ff0f0"/>
<rect x="54.04" y="420.5" width="1.8" height="77.2" fill="#0ff0f0"/>
<rect x="57.38" y="424.3" width="1.8" height="73.4" fill="#0ff0f0"/>
<rect x="60.71" y="428.1" width="1.8" height="69.6" fill="#0ff0f0"/>
<rect x="64.05" y="432.1" width="1.8" height="65.6" fill="#0ff0f0"/>
<rect x="67.38" y="437.0" width="1.8" height="60.7" fill="#0ff0f0"/>
<rect x="70.72" y="433.2" width="1.8" height="64.5" fill="#0ff0f0"/>
<rect x="74.06" y="440.7" width="1.8" height="57.0" fill="#0ff0f0"/>
<rect x="77.39" y="434.2" width="1.8" height="63.5" fill="#0ff0f0"/>
<rect x="80.73" y="480.0" width="1.8" height="17.7" fill="#0ff0f0"/>
<rect x="84.06" y="485.3" width="1.8" height="12.4" fill="#0ff0f0"/>
<rect x="87.40" y="490.8" width="1.8" height="6.9" fill="#0ff0f0"/>
<rect x="90.74" y="486.6" width="1.8" height="11.1" fill="#0ff0f0"/>
<rect x="94.07" y="473.6" width="1.8" height="24.1" fill="#0ff0f0"/>
<rect x="97.41" y="474.1" width="1.8" height="23.6" fill="#0ff0f0"/>
<rect x="100.74" y="475.4" width="1.8" height="22.3" fill="#0ff0f0"/>
<rect x="104.08" y="480.5" width="1.8" height="17.2" fill="#0ff0f0"/>
<rect x="107.42" y="484.8" width="1.8" height="12.9" fill="#0ff0f0"/>
<rect x="110.75" y="493.4" width="1.8" height="4.3" fill="#0ff0f0"/>
<rect x="114.09" y="490.3" width="1.8" height="7.4" fill="#0ff0f0"/>
<rect x="117.42" y="492.1" width="1.8" height="5.6" fill="#0ff0f0"/>
<rect x="120.76" y="487.1" width="1.8" height="10.6" fill="#0ff0f0"/>
<rect x="124.10" y="474.1" width="1.8" height="23.6" fill="#0ff0f0"/>
<rect x="127.43" y="471.9" width="1.8" height="25.8" fill="#0ff0f0"/>
<rect x="130.77" y="464.0" width="1.8" height="33.7" fill="#0ff0f0"/>
<rect x="134.10" y="452.7" width="1.8" height="45.0" fill="#0ff0f0"/>
<rect x="137.44" y="457.2" width="1.8" height="40.5" fill="#0ff0f0"/>
<rect x="140.78" y="438.9" width="1.8" height="58.8" fill="#0ff0f0"/>
<rect x="144.11" y="392.1" width="1.8" height="105.6" fill="#0ff0f0"/>
<rect x="147.45" y="409.1" width="1.8" height="88.6" fill="#0ff0f0"/>
<rect x="150.78" y="422.2" width="1.8" height="75.5" fill="#0ff0f0"/>
<rect x="154.12" y="418.8" width="1.8" height="78.9" fill="#0ff0f0"/>
<rect x="157.46" y="433.7" width="1.8" height="64.0" fill="#0ff0f0"/>
<rect x="160.79" y="441.5" width="1.8" height="56.2" fill="#0ff0f0"/>
<rect x="164.13" y="459.2" width="1.8" height="38.5" fill="#0ff0f0"/>
<rect x="167.46" y="468.1" width="1.8" height="29.6" fill="#0ff0f0"/>
<rect x="170.80" y="472.9" width="1.8" height="24.8" fill="#0ff0f0"/>
<rect x="174.14" y="465.3" width="1.8" height="32.4" fill="#0ff0f0"/>
<rect x="177.47" y="466.8" width="1.8" height="30.9" fill="#0ff0f0"/>
<rect x="180.81" y="464.0" width="1.8" height="33.7" fill="#0ff0f0"/>
<rect x="184.14" y="464.3" width="1.8" height="33.4" fill="#0ff0f0"/>
<rect x="187.48" y="471.2" width="1.8" height="26.5" fill="#0ff0f0"/>
<rect x="190.82" y="485.8" width="1.8" height="11.9" fill="#0ff0f0"/>
<rect x="194.15" y="479.7" width="1.8" height="18.0" fill="#0ff0f0"/>
<rect x="197.49" y="473.6" width="1.8" height="24.1" fill="#0ff0f0"/>
<rect x="200.82" y="460.0" width="1.8" height="37.7" fill="#0ff0f0"/>
<rect x="204.16" y="433.7" width="1.8" height="64.0" fill="#0ff0f0"/>
<rect x="207.50" y="445.3" width="1.8" height="52.4" fill="#0ff0f0"/>
<rect x="210.83" y="455.9" width="1.8" height="41.8" fill="#0ff0f0"/>
<rect x="214.17" y="474.9" width="1.8" height="22.8" fill="#0ff0f0"/>
<rect x="217.50" y="472.3" width="1.8" height="25.4" fill="#0ff0f0"/>
<rect x="220.84" y="470.1" width="1.8" height="27.6" fill="#0ff0f0"/>
<rect x="224.18" y="477.4" width="1.8" height="20.3" fill="#0ff0f0"/>
<rect x="227.51" y="484.3" width="1.8" height="13.4" fill="#0ff0f0"/>
<rect x="230.85" y="480.0" width="1.8" height="17.7" fill="#0ff0f0"/>
<rect x="234.18" y="484.3" width="1.8" height="13.4" fill="#0ff0f0"/>
<rect x="237.52" y="481.8" width="1.8" height="15.9" fill="#0ff0f0"/>
<rect x="240.86" y="471.9" width="1.8" height="25.8" fill="#0ff0f0"/>
<rect x="244.19" y="465.6" width="1.8" height="32.1" fill="#0ff0f0"/>
<rect x="247.53" y="447.8" width="1.8" height="49.9" fill="#0ff0f0"/>
<rect x="250.86" y="417.2" width="1.8" height="80.5" fill="#0ff0f0"/>
<rect x="254.20" y="426.0" width="1.8" height="71.7" fill="#0ff0f0"/>
<rect x="257.54" y="423.0" width="1.8" height="74.7" fill="#0ff0f0"/>
<rect x="260.87" y="432.4" width="1.8" height="65.3" fill="#0ff0f0"/>
<rect x="264.21" y="434.9" width="1.8" height="62.8" fill="#0ff0f0"/>
<rect x="267.54" y="443.8" width="1.8" height="53.9" fill="#0ff0f0"/>
<rect x="270.88" y="416.0" width="1.8" height="81.7" fill="#0ff0f0"/>
<rect x="274.22" y="408.3" width="1.8" height="89.4" fill="#0ff0f0"/>
<rect x="277.55" y="402.8" width="1.8" height="94.9" fill="#0ff0f0"/>
<rect x="280.89" y="414.9" width="1.8" height="82.8" fill="#0ff0f0"/>
<rect x="284.22" y="423.0" width="1.8" height="74.7" fill="#0ff0f0"/>
<rect x="287.56" y="437.5" width="1.8" height="60.2" fill="#0ff0f0"/>
<rect x="290.90" y="443.3" width="1.8" height="54.4" fill="#0ff0f0"/>
<rect x="294.23" y="428.1" width="1.8" height="69.6" fill="#0ff0f0"/>
<rect x="297.57" y="422.2" width="1.8" height="75.5" fill="#0ff0f0"/>
<rect x="300.90" y="431.9" width="1.8" height="65.8" fill="#0ff0f0"/>
<rect x="304.24" y="431.1" width="1.8" height="66.6" fill="#0ff0f0"/>
<rect x="307.58" y="430.1" width="1.8" height="67.6" fill="#0ff0f0"/>
<rect x="310.91" y="438.9" width="1.8" height="58.8" fill="#0ff0f0"/>
<rect x="314.25" y="422.2" width="1.8" height="75.5" fill="#0ff0f0"/>
<rect x="317.58" y="423.8" width="1.8" height="73.9" fill="#0ff0f0"/>
<rect x="320.92" y="423.0" width="1.8" height="74.7" fill="#0ff0f0"/>
<rect x="324.26" y="433.7" width="1.8" height="64.0" fill="#0ff0f0"/>
<rect x="327.59" y="428.1" width="1.8" height="69.6" fill="#0ff0f0"/>
<rect x="330.93" y="448.3" width="1.8" height="49.4" fill="#0ff0f0"/>
<rect x="334.26" y="485.1" width="1.8" height="12.6" fill="#0ff0f0"/>
<rect x="337.60" y="481.8" width="1.8" height="15.9" fill="#0ff0f0"/>
<rect x="340.94" y="483.3" width="1.8" height="14.4" fill="#0ff0f0"/>
<rect x="344.27" y="497.7" width="1.8" height="5.9" fill="#0ff0f0"/>
<rect x="347.61" y="497.7" width="1.8" height="14.4" fill="#0ff0f0"/>
<rect x="350.94" y="497.7" width="1.8" height="3.3" fill="#0ff0f0"/>
<rect x="354.28" y="497.7" width="1.8" height="7.1" fill="#0ff0f0"/>
<rect x="357.62" y="497.7" width="1.8" height="10.1" fill="#0ff0f0"/>
<rect x="360.95" y="497.7" width="1.8" height="3.1" fill="#0ff0f0"/>
<rect x="364.29" y="490.1" width="1.8" height="7.6" fill="#0ff0f0"/>
<rect x="367.62" y="488.1" width="1.8" height="9.6" fill="#0ff0f0"/>
<rect x="370.96" y="482.3" width="1.8" height="15.4" fill="#0ff0f0"/>
<rect x="374.30" y="480.0" width="1.8" height="17.7" fill="#0ff0f0"/>
<rect x="377.63" y="477.2" width="1.8" height="20.5" fill="#0ff0f0"/>
<rect x="380.97" y="474.1" width="1.8" height="23.6" fill="#0ff0f0"/>
<rect x="384.30" y="477.9" width="1.8" height="19.8" fill="#0ff0f0"/>
<rect x="387.64" y="487.6" width="1.8" height="10.1" fill="#0ff0f0"/>
<rect x="390.98" y="478.5" width="1.8" height="19.2" fill="#0ff0f0"/>
<rect x="394.31" y="478.5" width="1.8" height="19.2" fill="#0ff0f0"/>
<rect x="397.65" y="484.8" width="1.8" height="12.9" fill="#0ff0f0"/>
<rect x="400.98" y="486.8" width="1.8" height="10.9" fill="#0ff0f0"/>
<rect x="404.32" y="484.0" width="1.8" height="13.7" fill="#0ff0f0"/>
<rect x="407.66" y="479.7" width="1.8" height="18.0" fill="#0ff0f0"/>
<rect x="410.99" y="474.9" width="1.8" height="22.8" fill="#0ff0f0"/>
<rect x="414.33" y="471.9" width="1.8" height="25.8" fill="#0ff0f0"/>
<rect x="417.66" y="479.0" width="1.8" height="18.7" fill="#0ff0f0"/>
<rect x="421.00" y="473.6" width="1.8" height="24.1" fill="#0ff0f0"/>
<rect x="424.34" y="467.3" width="1.8" height="30.4" fill="#0ff0f0"/>
<rect x="427.67" y="464.3" width="1.8" height="33.4" fill="#0ff0f0"/>
<rect x="431.01" y="462.8" width="1.8" height="34.9" fill="#0ff0f0"/>
<rect x="434.34" y="458.4" width="1.8" height="39.3" fill="#0ff0f0"/>
<rect x="437.68" y="461.0" width="1.8" height="36.7" fill="#0ff0f0"/>
<rect x="441.02" y="444.5" width="1.8" height="53.2" fill="#0ff0f0"/>
<rect x="444.35" y="452.9" width="1.8" height="44.8" fill="#0ff0f0"/>
<rect x="447.69" y="428.1" width="1.8" height="69.6" fill="#0ff0f0"/>
<rect x="451.02" y="387.1" width="1.8" height="110.6" fill="#0ff0f0"/>
<rect x="454.36" y="414.9" width="1.8" height="82.8" fill="#0ff0f0"/>
<rect x="457.70" y="423.8" width="1.8" height="73.9" fill="#0ff0f0"/>
<rect x="461.03" y="421.0" width="1.8" height="76.7" fill="#0ff0f0"/>
<rect x="464.37" y="422.2" width="1.8" height="75.5" fill="#0ff0f0"/>
<rect x="467.70" y="426.8" width="1.8" height="70.9" fill="#0ff0f0"/>
<rect x="471.04" y="411.1" width="1.8" height="86.6" fill="#0ff0f0"/>
<rect x="474.38" y="425.5" width="1.8" height="72.2" fill="#0ff0f0"/>
<rect x="477.71" y="426.8" width="1.8" height="70.9" fill="#0ff0f0"/>
<rect x="481.05" y="426.8" width="1.8" height="70.9" fill="#0ff0f0"/>
<rect x="484.38" y="421.0" width="1.8" height="76.7" fill="#0ff0f0"/>
<rect x="487.72" y="430.1" width="1.8" height="67.6" fill="#0ff0f0"/>
<rect x="491.06" y="430.6" width="1.8" height="67.1" fill="#0ff0f0"/>
<rect x="494.39" y="419.3" width="1.8" height="78.4" fill="#0ff0f0"/>
<rect x="497.73" y="417.5" width="1.8" height="80.2" fill="#0ff0f0"/>
<rect x="501.06" y="425.0" width="1.8" height="72.7" fill="#0ff0f0"/>
<rect x="504.40" y="408.3" width="1.8" height="89.4" fill="#0ff0f0"/>
<rect x="507.74" y="412.4" width="1.8" height="85.3" fill="#0ff0f0"/>
<rect x="511.07" y="408.3" width="1.8" height="89.4" fill="#0ff0f0"/>
<rect x="514.41" y="398.2" width="1.8" height="99.5" fill="#0ff0f0"/>
<rect x="517.74" y="416.2" width="1.8" height="81.5" fill="#0ff0f0"/>
<rect x="521.08" y="426.8" width="1.8" height="70.9" fill="#0ff0f0"/>
<rect x="524.42" y="428.8" width="1.8" height="68.9" fill="#0ff0f0"/>
<rect x="527.75" y="441.5" width="1.8" height="56.2" fill="#0ff0f0"/>
<rect x="531.09" y="438.3" width="1.8" height="59.4" fill="#0ff0f0"/>
<rect x="534.42" y="442.0" width="1.8" height="55.7" fill="#0ff0f0"/>
<rect x="537.76" y="453.4" width="1.8" height="44.3" fill="#0ff0f0"/>
<rect x="541.10" y="443.3" width="1.8" height="54.4" fill="#0ff0f0"/>
<rect x="544.43" y="452.9" width="1.8" height="44.8" fill="#0ff0f0"/>
<rect x="547.77" y="444.0" width="1.8" height="53.7" fill="#0ff0f0"/>
<rect x="551.10" y="489.6" width="1.8" height="8.1" fill="#0ff0f0"/>
<rect x="554.44" y="474.9" width="1.8" height="22.8" fill="#0ff0f0"/>
<rect x="557.78" y="478.2" width="1.8" height="19.5" fill="#0ff0f0"/>
<rect x="561.11" y="465.6" width="1.8" height="32.1" fill="#0ff0f0"/>
<rect x="564.45" y="442.7" width="1.8" height="55.0" fill="#0ff0f0"/>
<rect x="567.78" y="436.2" width="1.8" height="61.5" fill="#0ff0f0"/>
<rect x="571.12" y="442.0" width="1.8" height="55.7" fill="#0ff0f0"/>
<rect x="574.46" y="425.5" width="1.8" height="72.2" fill="#0ff0f0"/>
<rect x="577.79" y="423.5" width="1.8" height="74.2" fill="#0ff0f0"/>
<rect x="581.13" y="420.5" width="1.8" height="77.2" fill="#0ff0f0"/>
<rect x="584.46" y="403.3" width="1.8" height="94.4" fill="#0ff0f0"/>
<rect x="587.80" y="412.9" width="1.8" height="84.8" fill="#0ff0f0"/>
<rect x="591.14" y="414.2" width="1.8" height="83.5" fill="#0ff0f0"/>
<rect x="594.47" y="432.4" width="1.8" height="65.3" fill="#0ff0f0"/>
<rect x="597.81" y="441.2" width="1.8" height="56.5" fill="#0ff0f0"/>
<rect x="601.14" y="458.9" width="1.8" height="38.8" fill="#0ff0f0"/>
<rect x="604.48" y="483.8" width="1.8" height="13.9" fill="#0ff0f0"/>
<rect x="607.82" y="485.6" width="1.8" height="12.1" fill="#0ff0f0"/>
<rect x="611.15" y="464.0" width="1.8" height="33.7" fill="#0ff0f0"/>
<rect x="614.49" y="471.9" width="1.8" height="25.8" fill="#0ff0f0"/>
<rect x="617.82" y="485.6" width="1.8" height="12.1" fill="#0ff0f0"/>
<rect x="621.16" y="482.5" width="1.8" height="15.2" fill="#0ff0f0"/>
<rect x="624.50" y="480.7" width="1.8" height="17.0" fill="#0ff0f0"/>
<rect x="627.83" y="476.7" width="1.8" height="21.0" fill="#0ff0f0"/>
<rect x="631.17" y="450.4" width="1.8" height="47.3" fill="#0ff0f0"/>
<rect x="634.50" y="444.5" width="1.8" height="53.2" fill="#0ff0f0"/>
<rect x="637.84" y="420.5" width="1.8" height="77.2" fill="#0ff0f0"/>
<rect x="641.18" y="442.0" width="1.8" height="55.7" fill="#0ff0f0"/>
<rect x="644.51" y="436.2" width="1.8" height="61.5" fill="#0ff0f0"/>
<rect x="647.85" y="441.2" width="1.8" height="56.5" fill="#0ff0f0"/>
<rect x="651.18" y="453.9" width="1.8" height="43.8" fill="#0ff0f0"/>
<rect x="654.52" y="438.7" width="1.8" height="59.0" fill="#0ff0f0"/>
<rect x="657.86" y="432.4" width="1.8" height="65.3" fill="#0ff0f0"/>
<rect x="661.19" y="409.6" width="1.8" height="88.1" fill="#0ff0f0"/>
<rect x="664.53" y="426.0" width="1.8" height="71.7" fill="#0ff0f0"/>
<rect x="667.86" y="425.5" width="1.8" height="72.2" fill="#0ff0f0"/>
<rect x="671.20" y="443.3" width="1.8" height="54.4" fill="#0ff0f0"/>
<rect x="674.54" y="434.9" width="1.8" height="62.8" fill="#0ff0f0"/>
<rect x="677.87" y="421.3" width="1.8" height="76.4" fill="#0ff0f0"/>
<rect x="681.21" y="424.3" width="1.8" height="73.4" fill="#0ff0f0"/>
<rect x="684.54" y="419.3" width="1.8" height="78.4" fill="#0ff0f0"/>
<rect x="687.88" y="441.5" width="1.8" height="56.2" fill="#0ff0f0"/>
<rect x="691.22" y="430.6" width="1.8" height="67.1" fill="#0ff0f0"/>
<rect x="694.55" y="424.3" width="1.8" height="73.4" fill="#0ff0f0"/>
<rect x="697.89" y="421.0" width="1.8" height="76.7" fill="#0ff0f0"/>
<rect x="701.22" y="408.3" width="1.8" height="89.4" fill="#0ff0f0"/>
<rect x="704.56" y="413.4" width="1.8" height="84.3" fill="#0ff0f0"/>
<rect x="707.90" y="426.8" width="1.8" height="70.9" fill="#0ff0f0"/>
<rect x="711.23" y="435.2" width="1.8" height="62.5" fill="#0ff0f0"/>
<rect x="714.57" y="433.7" width="1.8" height="64.0" fill="#0ff0f0"/>
<rect x="717.90" y="452.2" width="1.8" height="45.5" fill="#0ff0f0"/>
<rect x="721.24" y="464.0" width="1.8" height="33.7" fill="#0ff0f0"/>
<rect x="724.58" y="477.4" width="1.8" height="20.3" fill="#0ff0f0"/>
<rect x="727.91" y="474.9" width="1.8" height="22.8" fill="#0ff0f0"/>
<rect x="731.25" y="477.4" width="1.8" height="20.3" fill="#0ff0f0"/>
<rect x="734.58" y="477.4" width="1.8" height="20.3" fill="#0ff0f0"/>
<rect x="737.92" y="469.9" width="1.8" height="27.8" fill="#0ff0f0"/>
<rect x="741.26" y="460.5" width="1.8" height="37.2" fill="#0ff0f0"/>
<rect x="744.59" y="460.5" width="1.8" height="37.2" fill="#0ff0f0"/>
<rect x="747.93" y="471.2" width="1.8" height="26.5" fill="#0ff0f0"/>
<rect x="751.26" y="453.4" width="1.8" height="44.3" fill="#0ff0f0"/>
<rect x="754.60" y="455.9" width="1.8" height="41.8" fill="#0ff0f0"/>
<rect x="757.94" y="472.3" width="1.8" height="25.4" fill="#0ff0f0"/>
<rect x="761.27" y="478.7" width="1.8" height="19.0" fill="#0ff0f0"/>
<rect x="764.61" y="465.6" width="1.8" height="32.1" fill="#0ff0f0"/>
<rect x="767.94" y="455.4" width="1.8" height="42.3" fill="#0ff0f0"/>
<rect x="771.28" y="437.0" width="1.8" height="60.7" fill="#0ff0f0"/>
<rect x="774.62" y="438.9" width="1.8" height="58.8" fill="#0ff0f0"/>
<rect x="777.95" y="497.7" width="1.8" height="4.3" fill="#0ff0f0"/>
<rect x="781.29" y="480.5" width="1.8" height="17.2" fill="#0ff0f0"/>
<rect x="784.62" y="488.9" width="1.8" height="8.8" fill="#0ff0f0"/>
<rect x="787.96" y="481.2" width="1.8" height="16.5" fill="#0ff0f0"/>
<rect x="791.30" y="497.7" width="1.8" height="13.1" fill="#0ff0f0"/>
<rect x="794.63" y="497.7" width="1.8" height="0.8" fill="#0ff0f0"/>
<rect x="797.97" y="495.9" width="1.8" height="1.8" fill="#0ff0f0"/>
<rect x="801.30" y="490.1" width="1.8" height="7.6" fill="#0ff0f0"/>
<rect x="804.64" y="478.7" width="1.8" height="19.0" fill="#0ff0f0"/>
<rect x="807.98" y="468.6" width="1.8" height="29.1" fill="#0ff0f0"/>
<rect x="811.31" y="472.3" width="1.8" height="25.4" fill="#0ff0f0"/>
<rect x="814.65" y="462.3" width="1.8" height="35.4" fill="#0ff0f0"/>
<rect x="817.98" y="457.2" width="1.8" height="40.5" fill="#0ff0f0"/>
<rect x="821.32" y="470.6" width="1.8" height="27.1" fill="#0ff0f0"/>
<rect x="824.66" y="453.9" width="1.8" height="43.8" fill="#0ff0f0"/>
<rect x="827.99" y="443.3" width="1.8" height="54.4" fill="#0ff0f0"/>
<rect x="831.33" y="451.4" width="1.8" height="46.3" fill="#0ff0f0"/>
<rect x="834.66" y="460.5" width="1.8" height="37.2" fill="#0ff0f0"/>
<rect x="838.00" y="442.7" width="1.8" height="55.0" fill="#0ff0f0"/>
<rect x="841.34" y="469.9" width="1.8" height="27.8" fill="#0ff0f0"/>
<rect x="844.67" y="480.6" width="1.8" height="17.1" fill="#0ff0f0"/>
</svg>
<div class="t ax" style="top:336.5px">34</div>
<div class="t ax" style="top:294.9px">36</div>
<div class="t ax" style="top:253.3px">38</div>
<div class="t ax" style="top:211.7px">40</div>
<div class="t ax" style="top:170.1px">42</div>
<div class="t ax" style="top:128.5px">44</div>
<div class="t ax" style="top:86.9px">46</div>
<div class="t ax" style="top:45.3px">48</div>
<div class="t ax" style="top:3.7px">50</div>
<div class="t ax" style="top:429.4px">75</div>
<div class="t ax" style="top:387.0px">125</div>
<div class="t ax" style="top:471.8px;color:#777">25</div>
<div class="t mo" style="left:61.3px">Oct</div>
<div class="t mo" style="left:134.8px">Nov</div>
<div class="t mo" style="left:204.3px">Dec</div>
<div class="t mo" style="left:271.3px">18</div>
<div class="t mo" style="left:341.0px">Feb</div>
<div class="t mo" style="left:404.6px">Mar</div>
<div class="t mo" style="left:474.6px">Apr</div>
<div class="t mo" style="left:544.6px">May</div>
<div class="t mo" style="left:617.6px">Jun</div>
<div class="t mo" style="left:688.6px">Jul</div>
<div class="t mo" style="left:758.0px">Aug</div>
<div class="t mo" style="left:835.3px">Sep</div>
<div class="box"></div>
<div class="lb" id="l1" style="left:5px;color:#19c9d9;transform:scaleX(0.945)">BollingerPercentB (SIMPLE, CLOSE, 0, 20, -2.0, 2.0)</div>
<div class="lb" id="l2" style="left:224.6px;color:#19c9d9;transform:scaleX(1.012)">20.2228</div>
<div class="lb" id="l3" style="left:266.5px;color:#e6d596;transform:scaleX(1.0)">0</div>
<div class="lb" id="l4" style="left:277.3px;color:#e6d596;transform:scaleX(1.0)">50</div>
<div class="lb" id="l5" style="left:294.7px;color:#e6d596;transform:scaleX(1.0)">100</div>
<div class="sep" style="left:221.9px"></div>
<div class="sep" style="left:263.1px"></div>
<div class="sep" style="left:274.6px"></div>
<div class="sep" style="left:291.5px"></div>
<div class="tag" style="top:406.9px;background:#fbe7a0;width:21px"><span>100</span></div>
<div class="tag" style="top:449.3px;background:#fbe7a0;width:15.5px"><span>50</span></div>
<div class="tag" style="top:491.7px;background:#fbe7a0;width:9.5px"><span>0</span></div>
<div class="tag" style="top:474.6px;background:#12f2f2;width:39.5px"><span>20.2228</span></div>
</body></html>
